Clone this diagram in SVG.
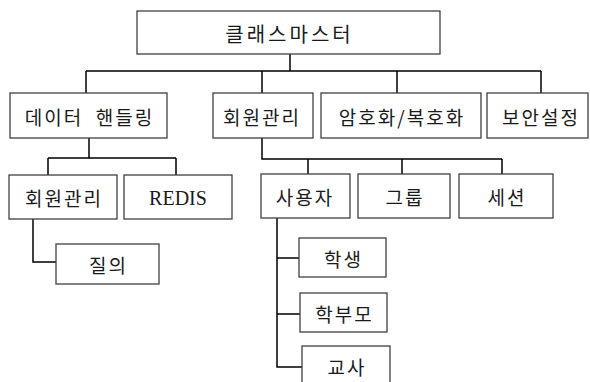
<svg xmlns="http://www.w3.org/2000/svg" width="590" height="382" viewBox="0 0 590 382">
<style>
.box{fill:#fff;stroke:#404040;stroke-width:1.3}
.t{font-family:"Noto Sans CJK KR","Noto Sans",sans-serif;font-size:19px;fill:#1a1a1a;text-anchor:middle;dominant-baseline:central;letter-spacing:2px}
.big{font-size:20px;letter-spacing:3px}
.en{font-family:"Liberation Serif",serif;font-size:20px;letter-spacing:0}
.c{fill:none;stroke:#000;stroke-width:1.5}
</style>
<rect width="590" height="382" fill="#fff"/>
<g id="connectors">
<path class="c" d="M290 54V71M86 71H541M86 71V93M262 71V93M397 71V93M541 71V93"/>
<path class="c" d="M89 138V158M48 158H176M48 158V175M176 158V175"/>
<path class="c" d="M33 219V262H56"/>
<path class="c" d="M262 138V159H502M308 159V174M402 159V174M502 159V174"/>
<path class="c" d="M277 218V367H302M277 258H299M277 314H300"/>
</g>
<g id="root"><rect class="box" x="137" y="11" width="303" height="43"/><text class="t big" x="289.5" y="33">클래스마스터</text></g>
<g id="data"><rect class="box" x="10" y="93" width="157" height="45"/><text class="t" x="89.5" y="116" xml:space="preserve">데이터  핸들링</text></g>
<g id="member"><rect class="box" x="213" y="93" width="100" height="45"/><text class="t" x="262" y="116">회원관리</text></g>
<g id="crypto"><rect class="box" x="321" y="93" width="160" height="45"/><text class="t" x="402" y="116" letter-spacing="1">암호화/복호화</text></g>
<g id="security"><rect class="box" x="487" y="93" width="101" height="45"/><text class="t" x="541" y="116">보안설정</text></g>
<g id="member2"><rect class="box" x="9" y="175" width="108" height="44"/><text class="t" x="64" y="197">회원관리</text></g>
<g id="redis"><rect class="box" x="124" y="175" width="108" height="44"/><text class="t en" x="178" y="198">REDIS</text></g>
<g id="query"><rect class="box" x="56" y="244" width="103" height="40"/><text class="t" x="108.5" y="264">질의</text></g>
<g id="user"><rect class="box" x="261" y="174" width="89" height="44"/><text class="t" x="305" y="196">사용자</text></g>
<g id="group"><rect class="box" x="358" y="174" width="92" height="44"/><text class="t" x="405" y="196">그룹</text></g>
<g id="session"><rect class="box" x="459" y="174" width="94" height="44"/><text class="t" x="507" y="196">세션</text></g>
<g id="student"><rect class="box" x="299" y="238" width="87" height="39"/><text class="t" x="343.5" y="258">학생</text></g>
<g id="parent"><rect class="box" x="300" y="293" width="87" height="39"/><text class="t" x="344.5" y="313">학부모</text></g>
<g id="teacher"><rect class="box" x="302" y="346" width="88" height="40"/><text class="t" x="347" y="366">교사</text></g>
</svg>
